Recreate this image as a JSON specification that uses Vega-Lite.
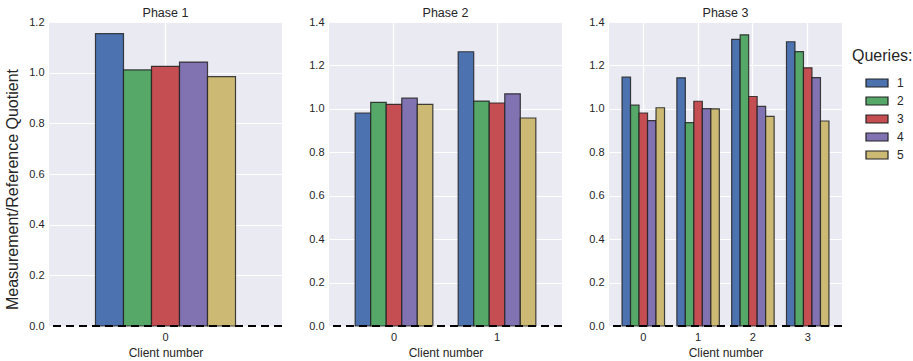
{
  "$schema": "https://vega.github.io/schema/vega-lite/v6.json",
  "padding": {"left": 4, "top": 6, "right": 0, "bottom": 0},
  "background": "white",
  "data": {"values": [
    {"phase": "Phase 1", "client": "0", "query": "1", "value": 1.154},
    {"phase": "Phase 1", "client": "0", "query": "2", "value": 1.011},
    {"phase": "Phase 1", "client": "0", "query": "3", "value": 1.025},
    {"phase": "Phase 1", "client": "0", "query": "4", "value": 1.042},
    {"phase": "Phase 1", "client": "0", "query": "5", "value": 0.984},
    {"phase": "Phase 2", "client": "0", "query": "1", "value": 0.981},
    {"phase": "Phase 2", "client": "0", "query": "2", "value": 1.030},
    {"phase": "Phase 2", "client": "0", "query": "3", "value": 1.021},
    {"phase": "Phase 2", "client": "0", "query": "4", "value": 1.049},
    {"phase": "Phase 2", "client": "0", "query": "5", "value": 1.021},
    {"phase": "Phase 2", "client": "1", "query": "1", "value": 1.263},
    {"phase": "Phase 2", "client": "1", "query": "2", "value": 1.036},
    {"phase": "Phase 2", "client": "1", "query": "3", "value": 1.027},
    {"phase": "Phase 2", "client": "1", "query": "4", "value": 1.069},
    {"phase": "Phase 2", "client": "1", "query": "5", "value": 0.958},
    {"phase": "Phase 3", "client": "0", "query": "1", "value": 1.146},
    {"phase": "Phase 3", "client": "0", "query": "2", "value": 1.017},
    {"phase": "Phase 3", "client": "0", "query": "3", "value": 0.981},
    {"phase": "Phase 3", "client": "0", "query": "4", "value": 0.946},
    {"phase": "Phase 3", "client": "0", "query": "5", "value": 1.005},
    {"phase": "Phase 3", "client": "1", "query": "1", "value": 1.143},
    {"phase": "Phase 3", "client": "1", "query": "2", "value": 0.937},
    {"phase": "Phase 3", "client": "1", "query": "3", "value": 1.035},
    {"phase": "Phase 3", "client": "1", "query": "4", "value": 1.001},
    {"phase": "Phase 3", "client": "1", "query": "5", "value": 1.0},
    {"phase": "Phase 3", "client": "2", "query": "1", "value": 1.320},
    {"phase": "Phase 3", "client": "2", "query": "2", "value": 1.341},
    {"phase": "Phase 3", "client": "2", "query": "3", "value": 1.057},
    {"phase": "Phase 3", "client": "2", "query": "4", "value": 1.011},
    {"phase": "Phase 3", "client": "2", "query": "5", "value": 0.965},
    {"phase": "Phase 3", "client": "3", "query": "1", "value": 1.309},
    {"phase": "Phase 3", "client": "3", "query": "2", "value": 1.264},
    {"phase": "Phase 3", "client": "3", "query": "3", "value": 1.189},
    {"phase": "Phase 3", "client": "3", "query": "4", "value": 1.144},
    {"phase": "Phase 3", "client": "3", "query": "5", "value": 0.944}
  ]},
  "spacing": 25,
  "hconcat": [
    {
      "width": 233, "height": 304,
      "title": "Phase 1",
      "transform": [{"filter": "datum.phase == 'Phase 1'"}],
      "layer": [
        {
          "mark": {"type": "bar", "stroke": "#222222", "strokeWidth": 1.2, "strokeOpacity": 0.85},
          "encoding": {
            "x": {"field": "client", "type": "ordinal", "title": "Client number",
                  "scale": {"paddingInner": 0, "paddingOuter": 0.332},
                  "axis": {"labelAngle": 0}},
            "xOffset": {"field": "query", "type": "nominal", "scale": {"paddingInner": 0}},
            "y": {"field": "value", "type": "quantitative", "title": "Measurement/Reference Quotient",
                  "scale": {"domain": [0, 1.2], "nice": false},
                  "axis": {"values": [0, 0.2, 0.4, 0.6, 0.8, 1.0, 1.2], "format": ".1f", "titleFontSize": 16, "titlePadding": 8, "titleY": 167}},
            "color": {"field": "query", "type": "nominal", "title": "Queries:"}
          }
        },
        {
          "mark": {"type": "rule", "color": "black", "strokeWidth": 2, "strokeDash": [8, 5]},
          "encoding": {"y": {"datum": 0}}
        }
      ]
    },
    {
      "width": 233, "height": 304,
      "title": "Phase 2",
      "transform": [{"filter": "datum.phase == 'Phase 2'"}],
      "layer": [
        {
          "mark": {"type": "bar", "stroke": "#222222", "strokeWidth": 1.2, "strokeOpacity": 0.85},
          "encoding": {
            "x": {"field": "client", "type": "ordinal", "title": "Client number",
                  "scale": {"paddingInner": 0.246, "paddingOuter": 0.254},
                  "axis": {"labelAngle": 0}},
            "xOffset": {"field": "query", "type": "nominal", "scale": {"paddingInner": 0}},
            "y": {"field": "value", "type": "quantitative", "title": null,
                  "scale": {"domain": [0, 1.4], "nice": false},
                  "axis": {"values": [0, 0.2, 0.4, 0.6, 0.8, 1.0, 1.2, 1.4], "format": ".1f"}},
            "color": {"field": "query", "type": "nominal", "title": "Queries:"}
          }
        },
        {
          "mark": {"type": "rule", "color": "black", "strokeWidth": 2, "strokeDash": [8, 5]},
          "encoding": {"y": {"datum": 0}}
        }
      ]
    },
    {
      "width": 233, "height": 304,
      "title": "Phase 3",
      "transform": [{"filter": "datum.phase == 'Phase 3'"}],
      "layer": [
        {
          "mark": {"type": "bar", "stroke": "#222222", "strokeWidth": 1.2, "strokeOpacity": 0.85},
          "encoding": {
            "x": {"field": "client", "type": "ordinal", "title": "Client number",
                  "scale": {"paddingInner": 0.225, "paddingOuter": 0.238},
                  "axis": {"labelAngle": 0}},
            "xOffset": {"field": "query", "type": "nominal", "scale": {"paddingInner": 0}},
            "y": {"field": "value", "type": "quantitative", "title": null,
                  "scale": {"domain": [0, 1.4], "nice": false},
                  "axis": {"values": [0, 0.2, 0.4, 0.6, 0.8, 1.0, 1.2, 1.4], "format": ".1f"}},
            "color": {"field": "query", "type": "nominal", "title": "Queries:",
                      "legend": {"orient": "none", "legendX": 803, "legendY": 26}}
          }
        },
        {
          "mark": {"type": "rule", "color": "black", "strokeWidth": 2, "strokeDash": [8, 5]},
          "encoding": {"y": {"datum": 0}}
        }
      ]
    }
  ],
  "resolve": {"scale": {"x": "independent", "y": "independent", "xOffset": "independent"}},
  "config": {
    "font": "Liberation Sans",
    "view": {"fill": "#EAEAF2", "stroke": null},
    "range": {"category": ["#4C72B0", "#55A868", "#C44E52", "#8172B2", "#CCB974"]},
    "title": {"fontSize": 12.5, "fontWeight": "normal", "color": "#262626", "offset": -3},
    "axis": {
      "grid": true, "gridColor": "white", "gridWidth": 1.2,
      "domain": false, "ticks": false,
      "labelFontSize": 11, "labelColor": "#262626", "labelPadding": 5,
      "titleFontSize": 12, "titleFontWeight": "normal", "titleColor": "#262626", "titlePadding": 5
    },
    "legend": {
      "titleFontSize": 16, "titleFontWeight": "normal", "titleColor": "#262626",
      "labelFontSize": 12, "labelColor": "#262626",
      "symbolType": "M-1.1,-0.4H1.1V0.4H-1.1Z", "symbolSize": 400,
      "symbolStrokeColor": "#222222", "symbolStrokeWidth": 1.2,
      "symbolOffset": 14, "labelOffset": 9,
      "rowPadding": 0, "titlePadding": 8, "padding": 0
    }
  }
}
